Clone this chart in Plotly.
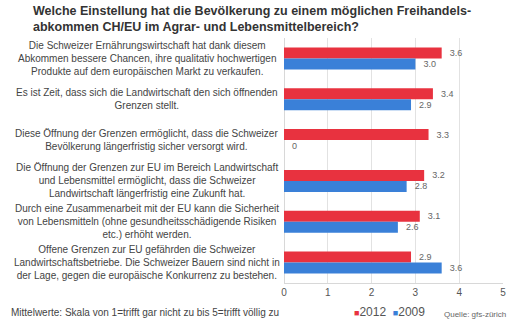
import plotly.graph_objects as go

categories = [
    "Die Schweizer Ernährungswirtschaft hat dank diesem<br>Abkommen bessere Chancen, ihre qualitativ hochwertigen<br>Produkte auf dem europäischen Markt zu verkaufen.",
    "Es ist Zeit, dass sich die Landwirtschaft den sich öffnenden<br>Grenzen stellt.",
    "Diese Öffnung der Grenzen ermöglicht, dass die Schweizer<br>Bevölkerung längerfristig sicher versorgt wird.",
    "Die Öffnung der Grenzen zur EU im Bereich Landwirtschaft<br>und Lebensmittel ermöglicht, dass die Schweizer<br>Landwirtschaft längerfristig eine Zukunft hat.",
    "Durch eine Zusammenarbeit mit der EU kann die Sicherheit<br>von Lebensmitteln (ohne gesundheitsschädigende Risiken<br>etc.) erhöht werden.",
    "Offene Grenzen zur EU gefährden die Schweizer<br>Landwirtschaftsbetriebe. Die Schweizer Bauern sind nicht in<br>der Lage, gegen die europäische Konkurrenz zu bestehen.",
]
keys = ["c1", "c2", "c3", "c4", "c5", "c6"]
series_names = ["2012", "2009"]
values_2012 = [3.6, 3.4, 3.3, 3.2, 3.1, 2.9]
values_2009 = [3.0, 2.9, 0, 2.8, 2.6, 3.6]
labels_2012 = ["3.6", "3.4", "3.3", "3.2", "3.1", "2.9"]
labels_2009 = ["3.0", "2.9", "0", "2.8", "2.6", "3.6"]
x_ticks = [0, 1, 2, 3, 4, 5]

RED = "#e8323f"
BLUE = "#3a80d8"
W, H = 516, 323
L, R, T, B = 284, 10, 38, 40
PW, PH = W - L - R, H - T - B
font = "Liberation Sans, Arial, sans-serif"


def px_x(x):
    return (x - L) / PW


def px_y(y):
    return (H - B - y) / PH


pad = "\u00a0\u00a0"
fig = go.Figure()
for name, vals, labs, col in [
    (series_names[0], values_2012, labels_2012, RED),
    (series_names[1], values_2009, labels_2009, BLUE),
]:
    fig.add_trace(go.Bar(
        y=keys, x=vals, orientation="h", name=name,
        marker=dict(color=col, line=dict(width=0)),
        text=[pad + t for t in labs], textposition="outside", cliponaxis=False,
        constraintext="none",
        textfont=dict(size=9, color="#666", family=font),
        showlegend=False,
    ))

annotations = []
for k, c in zip(keys, categories):
    annotations.append(dict(
        x=px_x(145), xref="paper", y=k, yref="y",
        text=c, showarrow=False, xanchor="center", yanchor="middle",
        align="center", font=dict(size=10, color="#444", family=font),
    ))
annotations.append(dict(
    x=px_x(28), xref="paper", y=px_y(2), yref="paper",
    text="<b>Welche Einstellung hat die Bevölkerung zu einem möglichen Freihandels-<br>abkommen CH/EU im Agrar- und Lebensmittelbereich?</b>",
    showarrow=False, xanchor="left", yanchor="top", align="left",
    font=dict(size=12.5, color="#333", family=font),
))
annotations.append(dict(
    x=px_x(5), xref="paper", y=px_y(312), yref="paper",
    text="Mittelwerte: Skala von 1=trifft gar nicht zu bis 5=trifft völlig zu",
    showarrow=False, xanchor="left", yanchor="middle",
    font=dict(size=10, color="#444", family=font),
))
annotations.append(dict(
    x=px_x(353), xref="paper", y=px_y(312), yref="paper",
    text=(f"<span style='color:{RED};font-size:9px'>■</span>{series_names[0]}"
          f"\u00a0\u00a0<span style='color:{BLUE};font-size:9px'>■</span>{series_names[1]}"),
    showarrow=False, xanchor="left", yanchor="middle",
    font=dict(size=12, color="#555", family=font),
))
annotations.append(dict(
    x=px_x(511), xref="paper", y=px_y(314), yref="paper", text="Quelle: gfs-zürich",
    showarrow=False, xanchor="right", yanchor="middle",
    font=dict(size=8, color="#666", family=font),
))

fig.update_layout(
    width=W, height=H,
    margin=dict(l=L, r=R, t=T, b=B, pad=0),
    paper_bgcolor="white", plot_bgcolor="white",
    barmode="group", bargap=0.46, bargroupgap=0,
    xaxis=dict(
        range=[0, 5], tickvals=x_ticks, ticktext=[str(t) for t in x_ticks],
        showgrid=True, gridcolor="#e2e2e2", gridwidth=1,
        zeroline=True, zerolinecolor="#d8d8d8", zerolinewidth=1,
        showline=True, linecolor="#d8d8d8", linewidth=1,
        ticks="", tickfont=dict(size=10, color="#555", family=font),
        fixedrange=True,
    ),
    yaxis=dict(
        categoryorder="array", categoryarray=keys, autorange="reversed",
        showticklabels=False, showgrid=False, ticks="", fixedrange=True,
    ),
    annotations=annotations,
    showlegend=False,
)

fig.write_html("out.html")
